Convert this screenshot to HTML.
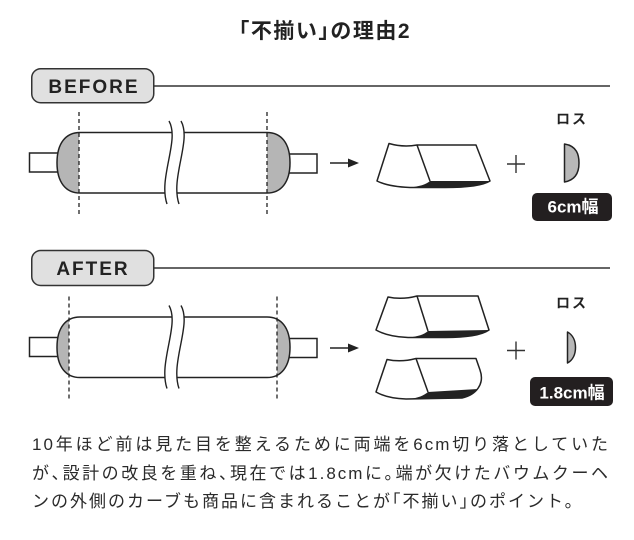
<!DOCTYPE html>
<html>
<head>
<meta charset="utf-8">
<style>
  html, body { margin: 0; padding: 0; background: #fff; }
  body { width: 634px; height: 540px; position: relative; overflow: hidden; }
  svg { position: absolute; left: 0; top: 0; }
  .title {
    position: absolute; left: 8px; top: 17px; width: 634px; text-align: center;
    font-family: "Liberation Sans", "Noto Sans CJK JP", sans-serif;
    font-size: 21px; font-weight: 700; color: #222; line-height: 30px; letter-spacing: 1.5px;
  }
  .para {
    position: absolute; left: 32px; top: 431px; width: 578px;
    font-family: "Liberation Sans", "Noto Sans CJK JP", sans-serif;
    font-size: 17px; letter-spacing: 2px; color: #2a2a2a;
  }
  .para div { height: 28.7px; line-height: 28.7px; }
  .j { text-align: justify; text-align-last: justify; text-justify: inter-character; }
  .h { font-feature-settings: "halt"; }
</style>
</head>
<body>
<div class="title"><span class="h">「</span>不揃い<span class="h">」</span>の理由2</div>
<svg width="634" height="540" viewBox="0 0 634 540" xmlns="http://www.w3.org/2000/svg">
  <defs>
    <clipPath id="cbL"><rect x="0" y="100" width="79" height="120"/></clipPath>
    <clipPath id="cbR"><rect x="267" y="100" width="60" height="120"/></clipPath>
    <clipPath id="caL"><rect x="0" y="100" width="69" height="120"/></clipPath>
    <clipPath id="caR"><rect x="277" y="100" width="60" height="120"/></clipPath>
  </defs>

  <!-- BEFORE header -->
  <line x1="154" y1="86" x2="610" y2="86" stroke="#333" stroke-width="1.5"/>
  <rect x="31.75" y="68.75" width="122" height="34" rx="9" fill="#e0e0e0" stroke="#333" stroke-width="1.5"/>
  <text x="94" y="93" text-anchor="middle" font-family="'Liberation Sans',sans-serif" font-weight="700" font-size="19" letter-spacing="2" fill="#222">BEFORE</text>

  <!-- AFTER header -->
  <line x1="154" y1="268" x2="610" y2="268" stroke="#333" stroke-width="1.5"/>
  <rect x="31.75" y="250.5" width="122" height="35" rx="9" fill="#e0e0e0" stroke="#333" stroke-width="1.5"/>
  <text x="93" y="275" text-anchor="middle" font-family="'Liberation Sans',sans-serif" font-weight="700" font-size="19" letter-spacing="2" fill="#222">AFTER</text>

  <!-- BEFORE roll -->
  <g>
    <rect x="29.5" y="153" width="30" height="19" fill="#fff" stroke="#222" stroke-width="1.5"/>
    <rect x="288" y="154" width="29" height="19" fill="#fff" stroke="#222" stroke-width="1.5"/>
    <path d="M80,132.5 C66,132.5 57,143 57,162.75 C57,182.5 66,193 80,193 L267,193 C281,193 290,182.5 290,162.75 C290,143 281,132.5 267,132.5 Z" fill="#fff"/>
    <path clip-path="url(#cbL)" d="M80,132.5 C66,132.5 57,143 57,162.75 C57,182.5 66,193 80,193 L267,193 C281,193 290,182.5 290,162.75 C290,143 281,132.5 267,132.5 Z" fill="#b5b5b5"/>
    <path clip-path="url(#cbR)" d="M80,132.5 C66,132.5 57,143 57,162.75 C57,182.5 66,193 80,193 L267,193 C281,193 290,182.5 290,162.75 C290,143 281,132.5 267,132.5 Z" fill="#b5b5b5"/>
    <path d="M80,132.5 C66,132.5 57,143 57,162.75 C57,182.5 66,193 80,193 L267,193 C281,193 290,182.5 290,162.75 C290,143 281,132.5 267,132.5 Z" fill="none" stroke="#222" stroke-width="1.5"/>
    <path d="M169,121 C180,140 158,178 167,204 L179,204 C170,178 192,140 181,121 Z" fill="#fff"/>
    <path d="M169,121 C180,140 158,178 167,204" fill="none" stroke="#222" stroke-width="1.4"/>
    <path d="M181,121 C192,140 170,178 179,204" fill="none" stroke="#222" stroke-width="1.4"/>
    <line x1="79" y1="112" x2="79" y2="215" stroke="#222" stroke-width="1.3" stroke-dasharray="4,3"/>
    <line x1="267" y1="112" x2="267" y2="215" stroke="#222" stroke-width="1.3" stroke-dasharray="4,3"/>
  </g>

  <!-- AFTER roll -->
  <g transform="translate(0,184.5)">
    <rect x="29.5" y="153" width="30" height="19" fill="#fff" stroke="#222" stroke-width="1.5"/>
    <rect x="288" y="154" width="29" height="19" fill="#fff" stroke="#222" stroke-width="1.5"/>
    <path d="M80,132.5 C66,132.5 57,143 57,162.75 C57,182.5 66,193 80,193 L267,193 C281,193 290,182.5 290,162.75 C290,143 281,132.5 267,132.5 Z" fill="#fff"/>
    <path clip-path="url(#caL)" d="M80,132.5 C66,132.5 57,143 57,162.75 C57,182.5 66,193 80,193 L267,193 C281,193 290,182.5 290,162.75 C290,143 281,132.5 267,132.5 Z" fill="#b5b5b5"/>
    <path clip-path="url(#caR)" d="M80,132.5 C66,132.5 57,143 57,162.75 C57,182.5 66,193 80,193 L267,193 C281,193 290,182.5 290,162.75 C290,143 281,132.5 267,132.5 Z" fill="#b5b5b5"/>
    <path d="M80,132.5 C66,132.5 57,143 57,162.75 C57,182.5 66,193 80,193 L267,193 C281,193 290,182.5 290,162.75 C290,143 281,132.5 267,132.5 Z" fill="none" stroke="#222" stroke-width="1.5"/>
    <path d="M169,121 C180,140 158,178 167,204 L179,204 C170,178 192,140 181,121 Z" fill="#fff"/>
    <path d="M169,121 C180,140 158,178 167,204" fill="none" stroke="#222" stroke-width="1.4"/>
    <path d="M181,121 C192,140 170,178 179,204" fill="none" stroke="#222" stroke-width="1.4"/>
    <line x1="69" y1="112" x2="69" y2="215" stroke="#222" stroke-width="1.3" stroke-dasharray="4,3"/>
    <line x1="277" y1="112" x2="277" y2="215" stroke="#222" stroke-width="1.3" stroke-dasharray="4,3"/>
  </g>

  <!-- Arrows -->
  <line x1="330" y1="163" x2="350" y2="163" stroke="#222" stroke-width="1.6"/>
  <polygon points="348,158.5 359,163 348,167.5" fill="#222"/>
  <line x1="330" y1="348" x2="350" y2="348" stroke="#222" stroke-width="1.6"/>
  <polygon points="348,343.5 359,348 348,352.5" fill="#222"/>

  <!-- BEFORE piece -->
  <path d="M389,143.5 Q403,147.5 417,145 L476,145 L490,181 C482,186 465,187.5 445,187.5 L410,187.5 C395,187 385,185 377,181 Z" fill="#fff" stroke="#222" stroke-width="1.5" stroke-linejoin="round"/>
  <path d="M430,181 L490,181 C482,186 465,187.5 445,187.5 L410,187.5 C419,186.5 426,184.5 430,181 Z" fill="#222"/>
  <path d="M417,145 L430,181" stroke="#222" stroke-width="1.5" fill="none"/>

  <!-- AFTER pieces -->
  <path d="M388,297 Q402,300 417,296 L478,296 L489,330 C481,335.5 465,337.5 445,337.5 L408,337.5 C394,337 384,334.5 376,330 Z" fill="#fff" stroke="#222" stroke-width="1.5" stroke-linejoin="round"/>
  <path d="M428,331 L489,330 C481,335.5 465,337.5 445,337.5 L409,337.5 C418,336.5 424,334.5 428,331 Z" fill="#222"/>
  <path d="M417,296 L428,331" stroke="#222" stroke-width="1.5" fill="none"/>

  <path d="M387,359.5 Q401,362.5 416,358.5 L476,358.5 L480,370 C485,384 476,395 462,398 L406,399 C393,398.5 383,396 376,392 Z" fill="#fff" stroke="#222" stroke-width="1.5" stroke-linejoin="round"/>
  <path d="M428,392 L478,389 C474,394 468,397 462,398 L409,399 C418,398 424,395.5 428,392 Z" fill="#222"/>
  <path d="M416,358.5 L428,392" stroke="#222" stroke-width="1.5" fill="none"/>

  <!-- Plus signs -->
  <g stroke="#333" stroke-width="1.4">
    <line x1="507" y1="164" x2="525" y2="164"/>
    <line x1="516" y1="155" x2="516" y2="173"/>
    <line x1="507" y1="350.5" x2="525" y2="350.5"/>
    <line x1="516" y1="341.5" x2="516" y2="359.5"/>
  </g>

  <!-- Loss labels -->
  <text x="572" y="124" text-anchor="middle" font-family="'Liberation Sans','Noto Sans CJK JP',sans-serif" font-weight="700" font-size="14" letter-spacing="2" fill="#222">ロス</text>
  <text x="572" y="308" text-anchor="middle" font-family="'Liberation Sans','Noto Sans CJK JP',sans-serif" font-weight="700" font-size="14" letter-spacing="2" fill="#222">ロス</text>

  <!-- Loss pieces -->
  <path d="M564.5,144 C577,146 579,155 579,163 C579,172 576,180 564.5,182 Z" fill="#b8b8b8" stroke="#222" stroke-width="1.5" stroke-linejoin="round"/>
  <path d="M567.5,332 C573,335 575.5,341 575.5,347.5 C575.5,354 573,360 567.5,363 Z" fill="#b8b8b8" stroke="#222" stroke-width="1.5" stroke-linejoin="round"/>

  <!-- Badges -->
  <rect x="532" y="193" width="80" height="28" rx="5" fill="#231f20"/>
  <text x="573" y="212.5" text-anchor="middle" font-family="'Liberation Sans','Noto Sans CJK JP',sans-serif" font-weight="700" font-size="17" fill="#fff">6cm幅</text>
  <rect x="530" y="377" width="83" height="29" rx="5" fill="#231f20"/>
  <text x="572" y="398.5" text-anchor="middle" font-family="'Liberation Sans','Noto Sans CJK JP',sans-serif" font-weight="700" font-size="17" fill="#fff">1.8cm幅</text>
</svg>

<div class="para">
  <div class="j">10年ほど前は見た目を整えるために両端を6cm切り落としていた</div>
  <div class="j">が<span class="h">、</span>設計の改良を重ね<span class="h">、</span>現在では1.8cmに<span class="h">。</span>端が欠けたバウムクーヘ</div>
  <div>ンの外側のカーブも商品に含まれることが<span class="h">「</span>不揃い<span class="h">」</span>のポイント。</div>
</div>
</body>
</html>
